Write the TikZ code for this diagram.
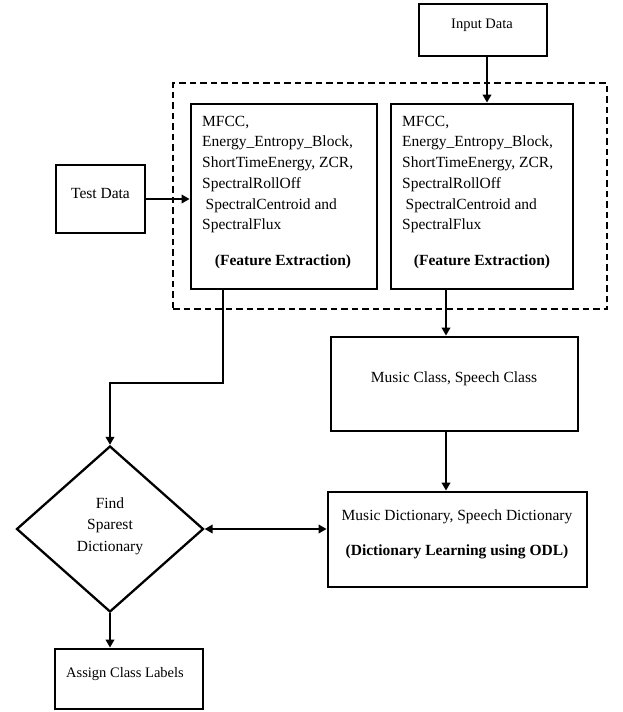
\documentclass[tikz,border=0pt]{standalone}
\usepackage{fontspec}
\setmainfont{Liberation Serif}
\usetikzlibrary{arrows.meta,shapes.geometric}
\tikzset{
  box/.style={draw, line width=2.8pt, rectangle, inner sep=0pt},
  grp/.style={draw, line width=2.5pt, dash pattern=on 6.5pt off 4pt, rectangle, inner sep=0pt},
  txt/.style={inner sep=0pt, font=\fontsize{15.5}{20.7}\selectfont},
  arr/.style={line width=2.8pt, -{Triangle[length=8pt,width=8.5pt]}},
  darr/.style={line width=2.8pt, {Triangle[length=8pt,width=8.5pt]}-{Triangle[length=8pt,width=8.5pt]}}
}
\begin{document}
\begin{tikzpicture}[x=1pt,y=-1pt]
\path[use as bounding box, fill=white] (0,0) rectangle (622,712);
% boxes
\node[box, minimum width=128pt, minimum height=52pt] (input) at (483,30) {};
\node[grp, minimum width=434pt, minimum height=226pt] (group) at (390,196) {};
\node[box, minimum width=186pt, minimum height=185pt] (fel) at (284,196.5) {};
\node[box, minimum width=182pt, minimum height=185pt] (fer) at (482,196.5) {};
\node[box, minimum width=89pt, minimum height=68pt] (test) at (100.5,199) {};
\node[box, minimum width=247pt, minimum height=94pt] (music) at (454.5,384) {};
\node[box, minimum width=259pt, minimum height=95pt] (dict) at (457.5,539.5) {};
\node[draw, line width=2.3pt, shape=diamond, inner sep=0pt, minimum width=187pt, minimum height=166pt] (dia) at (110,529) {};
\node[box, minimum width=148pt, minimum height=60pt] (assign) at (129,679) {};
% texts
\node[txt, anchor=base, font=\fontsize{14.5}{18}\selectfont] (tin) at (482,28) {Input Data};
\node[txt, anchor=base] (ttest) at (100.5,198) {Test Data};
\node[txt, anchor=north west, align=left] (tfel) at (202,115.8) {MFCC,\\Energy\_Entropy\_Block,\\ShortTimeEnergy, ZCR,\\SpectralRollOff\\\hspace{3.5pt}SpectralCentroid and\\SpectralFlux};
\node[txt, anchor=north west, align=left] (tfer) at (402,115.8) {MFCC,\\Energy\_Entropy\_Block,\\ShortTimeEnergy, ZCR,\\SpectralRollOff\\\hspace{3.5pt}SpectralCentroid and\\SpectralFlux};
\node[txt, anchor=base, font=\fontsize{15.5}{20.7}\selectfont\bfseries] (tfel2) at (283,265) {(Feature Extraction)};
\node[txt, anchor=base, font=\fontsize{15.5}{20.7}\selectfont\bfseries] (tfer2) at (482,265) {(Feature Extraction)};
\node[txt, anchor=base] (tmusic) at (454,382) {Music Class, Speech Class};
\node[txt, anchor=base] (tdict1) at (457,520) {Music Dictionary, Speech Dictionary};
\node[txt, anchor=base, font=\fontsize{15.5}{20.7}\selectfont\bfseries] (tdict2) at (457,555) {(Dictionary Learning using ODL)};
\node[txt, anchor=north, align=center, font=\fontsize{15.5}{21.5}\selectfont] (tdia) at (110,497.5) {Find\\Sparest\\Dictionary};
\node[txt, anchor=base, font=\fontsize{14.5}{18}\selectfont] (tassign) at (125,677) {Assign Class Labels};
% connectors
\coordinate (p0) at ([xshift=4pt]input.south);
\draw[arr] (p0) -- (p0 |- fer.north);
\draw[arr] (test.east) -- (test.east -| fel.west);
\coordinate (p1) at ([xshift=-36pt]fer.south);
\draw[arr] (p1) -- (p1 |- music.north);
\draw[arr] (p1 |- music.south) -- (p1 |- dict.north);
\coordinate (p2) at ([xshift=-61pt]fel.south);
\coordinate (bend) at (223,383);
\draw[arr] (p2) -- (bend) -| (dia.north);
\draw[darr] (dia.east) -- (dia.east -| dict.west);
\draw[arr] (dia.south) -- (dia.south |- assign.north);
\end{tikzpicture}
\end{document}
